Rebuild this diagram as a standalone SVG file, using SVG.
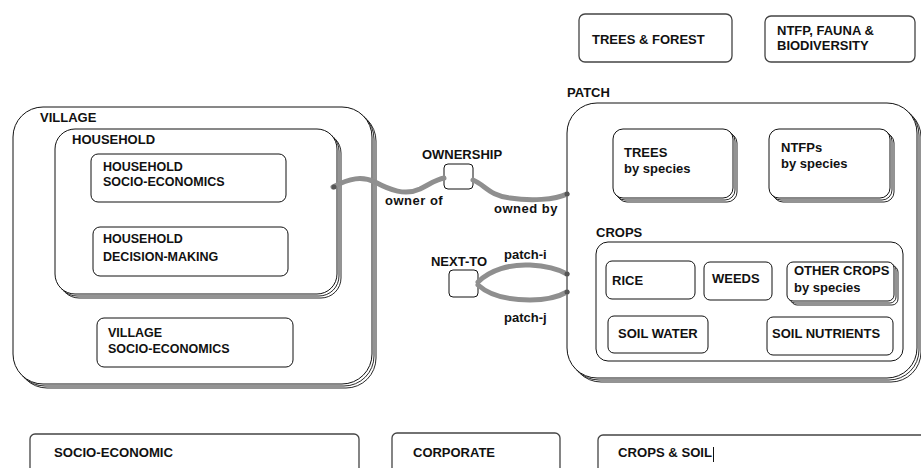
<svg xmlns="http://www.w3.org/2000/svg" width="921" height="468" viewBox="0 0 921 468">
<style>
text{font-family:"Liberation Sans",Arial,sans-serif;font-weight:bold;fill:#111}
.t13{font-size:13px}
.t12{font-size:12.5px}
.box{fill:#fff;stroke:#111;stroke-width:1}
.sh{fill:#fff;stroke:#111;stroke-width:0.9}
.lbox{fill:#fff;stroke:#444;stroke-width:1.3}
.cond{font-size:13px;font-weight:bold}
.conn{fill:none;stroke:#8f8f8f;stroke-width:5;stroke-linecap:round}
.nub{fill:#555}
</style>

<g id="trees-forest">
<rect class="lbox" x="579" y="14" width="153" height="48" rx="6"/>
<text class="t13" x="592" y="44">TREES &amp; FOREST</text>
</g>
<g id="ntfp-fauna">
<rect class="lbox" x="765" y="16" width="150" height="46" rx="6"/>
<text class="t13" x="777" y="35">NTFP, FAUNA &amp;</text>
<text class="t13" x="777" y="50">BIODIVERSITY</text>
</g>

<g id="village">
<rect class="sh" x="17" y="111" width="359" height="277" rx="30"/>
<rect class="sh" x="15" y="109" width="359" height="277" rx="30"/>
<rect class="box" x="13" y="107" width="359" height="277" rx="30"/>
<text class="t13" x="40" y="122">VILLAGE</text>
</g>
<g id="household">
<rect class="sh" x="59" y="133" width="282" height="165" rx="20"/>
<rect class="sh" x="57" y="131" width="282" height="165" rx="20"/>
<rect class="box" x="55" y="129" width="282" height="165" rx="20"/>
<text class="t13" x="72" y="144">HOUSEHOLD</text>
</g>
<g id="household-socio-economics">
<rect class="box" x="91" y="154" width="195" height="48" rx="7"/>
<text class="t12" x="103" y="171">HOUSEHOLD</text>
<text class="t12" x="103" y="186">SOCIO-ECONOMICS</text>
</g>
<g id="household-decision-making">
<rect class="box" x="93" y="227" width="195" height="49" rx="7"/>
<text class="t12" x="103" y="243">HOUSEHOLD</text>
<text class="t12" x="103" y="261">DECISION-MAKING</text>
</g>
<g id="village-socio-economics">
<rect class="box" x="97" y="318" width="196" height="49" rx="7"/>
<text class="t12" x="108" y="337">VILLAGE</text>
<text class="t12" x="108" y="353">SOCIO-ECONOMICS</text>
</g>

<g id="patch">
<text class="t13" x="567" y="97">PATCH</text>
<rect class="sh" x="571" y="107" width="350" height="275" rx="30"/>
<rect class="sh" x="569" y="105" width="350" height="275" rx="30"/>
<rect class="box" x="567" y="103" width="350" height="275" rx="30"/>
</g>
<g id="trees-by-species">
<rect class="sh" x="617" y="133" width="120" height="69" rx="10"/>
<rect class="sh" x="615" y="131" width="120" height="69" rx="10"/>
<rect class="box" x="613" y="129" width="120" height="69" rx="10"/>
<text class="t13" x="624" y="157">TREES</text>
<text class="t13" x="624" y="173">by species</text>
</g>
<g id="ntfps-by-species">
<rect class="sh" x="773" y="133" width="121" height="69" rx="10"/>
<rect class="sh" x="771" y="131" width="121" height="69" rx="10"/>
<rect class="box" x="769" y="129" width="121" height="69" rx="10"/>
<text class="t13" x="781" y="152">NTFPs</text>
<text class="t13" x="781" y="168">by species</text>
</g>
<g id="crops">
<text class="t13" x="596" y="237">CROPS</text>
<rect class="box" x="596" y="242" width="307" height="119" rx="12" stroke-width="1.3"/>
</g>
<g id="rice">
<rect class="box" x="606" y="261" width="89" height="38" rx="6"/>
<text class="t13" x="612" y="285">RICE</text>
</g>
<g id="weeds">
<rect class="box" x="704" y="262" width="68" height="38" rx="6"/>
<text class="t13" x="712" y="283">WEEDS</text>
</g>
<g id="other-crops">
<rect class="sh" x="791" y="266" width="107" height="39" rx="6"/>
<rect class="sh" x="789" y="264" width="107" height="39" rx="6"/>
<rect class="box" x="787" y="262" width="107" height="39" rx="6"/>
<text class="t13" x="794" y="275">OTHER CROPS</text>
<text class="t13" x="794" y="292">by species</text>
</g>
<g id="soil-water">
<rect class="box" x="608" y="316" width="100" height="37" rx="6"/>
<text class="t13" x="618" y="338">SOIL WATER</text>
</g>
<g id="soil-nutrients">
<rect class="box" x="767" y="317" width="126" height="38" rx="6"/>
<text class="t13" x="772" y="338">SOIL NUTRIENTS</text>
</g>

<g id="ownership">
<rect class="box" x="444" y="164" width="29" height="25" rx="4"/>
<text class="t13" x="462" y="159" text-anchor="middle">OWNERSHIP</text>
</g>
<g id="next-to">
<rect class="box" x="449" y="270" width="29" height="27" rx="4"/>
<text class="t13" x="459" y="266" text-anchor="middle">NEXT-TO</text>
</g>

<g id="connectors">
<path class="conn" d="M333,187 C350,178 362,176 375,182 C390,190 405,196 420,189 C430,184 437,179 444,178"/>
<path class="conn" d="M473,180 C485,185 490,196 510,198 C530,201 555,200 567,194"/>
<path class="conn" d="M478,282 C490,270 510,264 530,265 C550,266 560,270 567,274"/>
<path class="conn" d="M478,285 C490,296 510,300 530,300 C550,300 560,296 567,292"/>
<circle class="nub" cx="334" cy="187" r="2.5"/>
<circle class="nub" cx="567" cy="194" r="2.5"/>
<circle class="nub" cx="567" cy="274" r="2.5"/>
<circle class="nub" cx="567" cy="292" r="2.5"/>
<text class="t13" x="385" y="205" letter-spacing="0.5">owner of</text>
<text class="t13" x="494" y="213" letter-spacing="0.5">owned by</text>
<text class="t13" x="504" y="259">patch-i</text>
<text class="t13" x="504" y="322">patch-j</text>
</g>

<g id="socio-economic">
<rect class="lbox" x="30" y="434" width="329" height="50" rx="5"/>
<text class="cond" x="54" y="457" textLength="119" lengthAdjust="spacingAndGlyphs">SOCIO-ECONOMIC</text>
</g>
<g id="corporate">
<rect class="lbox" x="392" y="433" width="168" height="50" rx="5"/>
<text class="cond" x="413" y="457" textLength="82" lengthAdjust="spacingAndGlyphs">CORPORATE</text>
</g>
<g id="crops-soil">
<rect class="lbox" x="598" y="435" width="340" height="50" rx="5"/>
<text class="cond" x="618" y="457" textLength="94" lengthAdjust="spacingAndGlyphs">CROPS &amp; SOIL</text>
<line x1="713.5" y1="447" x2="713.5" y2="462" stroke="#111" stroke-width="1"/>
</g>
</svg>
